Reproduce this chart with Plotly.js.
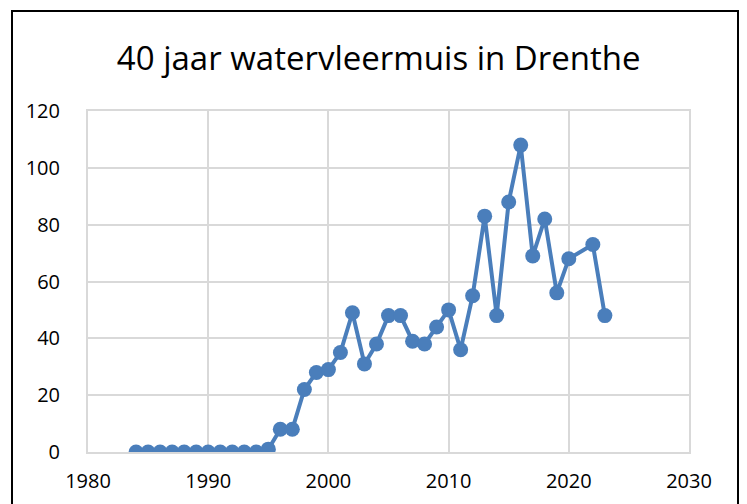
<!DOCTYPE html>
<html>
<head>
<meta charset="utf-8">
<script src="https://cdn.plot.ly/plotly-3.0.1.min.js"></script>
<style>
  html, body { margin: 0; padding: 0; background: #fff; }
  #chart { width: 747px; height: 504px; }
  #frame { position: absolute; left: 11px; top: 10px; width: 728px; height: 520px;
           border: 2px solid #000; box-sizing: border-box; pointer-events: none; }
</style>
</head>
<body>
<div id="chart"></div>
<div id="frame"></div>
<script>
const titleText = "40 jaar watervleermuis in Drenthe";
const years = [1984, 1985, 1986, 1987, 1988, 1989, 1990, 1991, 1992, 1993, 1994,
               1995, 1996, 1997, 1998, 1999, 2000, 2001, 2002, 2003, 2004, 2005,
               2006, 2007, 2008, 2009, 2010, 2011, 2012, 2013, 2014, 2015, 2016,
               2017, 2018, 2019, 2020, 2022, 2023];
const counts = [0, 0, 0, 0, 0, 0, 0, 0, 0, 0, 0,
                1, 8, 8, 22, 28, 29, 35, 49, 31, 38, 48,
                48, 39, 38, 44, 50, 36, 55, 83, 48, 88, 108,
                69, 82, 56, 68, 73, 48];
const xTicks = [1980, 1990, 2000, 2010, 2020, 2030];
const yTicks = [0, 20, 40, 60, 80, 100, 120];

const FONT = "Open Sans, Liberation Sans, sans-serif";
const BLUE = "#4a7ebb";
const GRID = "#d9d9d9";

Plotly.newPlot("chart", [{
  x: years,
  y: counts,
  type: "scatter",
  mode: "lines+markers",
  line: { color: BLUE, width: 4 },
  marker: { color: BLUE, size: 15 },
  hoverinfo: "x+y"
}], {
  width: 747,
  height: 504,
  margin: { l: 88, r: 58, t: 111, b: 52 },
  paper_bgcolor: "#fff",
  plot_bgcolor: "#fff",
  showlegend: false,
  title: {
    text: titleText,
    font: { family: FONT, size: 33, color: "#000" },
    xref: "container", x: 0.507, xanchor: "center",
    yref: "container", y: 0.885, yanchor: "middle"
  },
  xaxis: {
    range: [1980, 2030],
    tickmode: "array", tickvals: xTicks, ticktext: xTicks.map(String),
    showgrid: true, gridcolor: GRID, gridwidth: 2,
    zeroline: false, showline: true, linecolor: GRID, linewidth: 2, mirror: true,
    ticks: "", ticklabelstandoff: 10,
    tickfont: { family: FONT, size: 20, color: "#000" },
    fixedrange: true
  },
  yaxis: {
    range: [0, 120],
    tickmode: "array", tickvals: yTicks, ticktext: yTicks.map(String),
    showgrid: true, gridcolor: GRID, gridwidth: 2,
    zeroline: false, showline: true, linecolor: GRID, linewidth: 2, mirror: true,
    ticks: "", ticklabelstandoff: 22,
    tickfont: { family: FONT, size: 20, color: "#000" },
    fixedrange: true
  }
}, { displayModeBar: false, staticPlot: true });
</script>
</body>
</html>
